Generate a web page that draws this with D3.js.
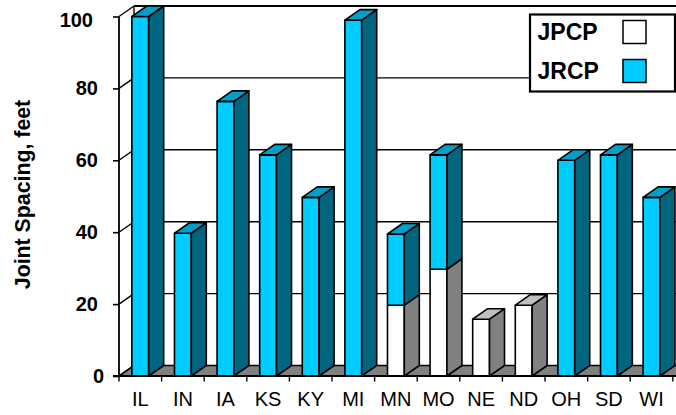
<!DOCTYPE html>
<html><head><meta charset="utf-8">
<script src="https://cdn.jsdelivr.net/npm/d3@7"></script>
<style>html,body{margin:0;padding:0;background:#fff}svg{display:block;font-family:"Liberation Sans",Arial,sans-serif}</style>
</head><body><svg id="c" width="676" height="415"></svg>
<script>
const categories=["IL","IN","IA","KS","KY","MI","MN","MO","NE","ND","OH","SD","WI"];
const jpcp=[0,0,0,0,0,0,19.7,29.7,15.8,19.7,0,0,0];
const jrcp=[100,39.7,76.4,61.5,49.7,99,19.8,31.8,0,0,60,61.5,49.7];
const yTicks=[0,20,40,60,80,100];
const seriesNames=["JPCP","JRCP"];

const svg=d3.select("#c");
const dx=15,dy=-10.5;
const plotL=119,plotR=672.8,plotB=376,plotT=16.5;
const x=d3.scaleBand().domain(categories).range([plotL,plotR]).paddingInner(0.605).paddingOuter(0.302);
const y=d3.scaleLinear().domain([0,100]).range([plotB,plotT]);
const step=x.step();
const colors={JPCP:{front:"#ffffff",side:"#808080",top:"#c0c0c0"},JRCP:{front:"#00ccff",side:"#006680",top:"#00a0c8"}};
const S={stroke:"#000","stroke-width":1.6,"stroke-linejoin":"round"};
const ap=(s,o)=>{Object.entries(o).forEach(([k,v])=>s.attr(k,v));return s;};
const poly=(g,pts,fill)=>ap(g.append("polygon").attr("points",pts.map(p=>p.join(",")).join(" ")).attr("fill",fill),S);

// floor
poly(svg,[[plotL,plotB],[plotL+dx,plotB+dy],[700,plotB+dy],[700,plotB]],"#808080");
// back wall gridlines
yTicks.slice(1).forEach(t=>{
  svg.append("line").attr("x1",plotL+dx).attr("x2",676).attr("y1",y(t)+dy).attr("y2",y(t)+dy).attr("stroke","#000").attr("stroke-width",t==100?2:1.4);
  svg.append("line").attr("x1",plotL).attr("x2",plotL+dx).attr("y1",y(t)).attr("y2",y(t)+dy).attr("stroke","#000").attr("stroke-width",1.4);
});
svg.append("line").attr("x1",plotL+dx).attr("x2",plotL+dx).attr("y1",y(100)+dy).attr("y2",plotB+dy).attr("stroke","#000").attr("stroke-width",1.4);

// bars
const w=x.bandwidth();
categories.forEach((c,i)=>{
  const g=svg.append("g");
  const X=x(c);
  const segs=[["JPCP",0,jpcp[i]],["JRCP",jpcp[i],jpcp[i]+jrcp[i]]].filter(s=>s[2]>s[1]);
  segs.forEach(([n,a,b],k)=>{
    const col=colors[n];
    poly(g,[[X,y(a)],[X+w,y(a)],[X+w,y(b)],[X,y(b)]],col.front);
    poly(g,[[X+w,y(a)],[X+w+dx,y(a)+dy],[X+w+dx,y(b)+dy],[X+w,y(b)]],col.side);
    if(k===segs.length-1) poly(g,[[X,y(b)],[X+w,y(b)],[X+w+dx,y(b)+dy],[X+dx,y(b)+dy]],col.top);
  });
});

// axes
const ya=d3.axisLeft(y).tickValues(yTicks).tickSize(6).tickPadding(9);
const gy=svg.append("g").attr("transform",`translate(${plotL},0)`).call(ya);
gy.select(".domain").attr("stroke-width",1.8).attr("d",`M0,${plotB}V${plotT}`);
gy.selectAll("line").attr("stroke-width",1.6);
gy.selectAll("text").attr("font-size",20).attr("font-weight","bold").attr("fill","#000").attr("font-family","Liberation Sans")
  .attr("transform",d=>d===100?"translate(-11,4)":d===0?"translate(0,0.5)":"translate(-6,0)");

const xa=d3.axisBottom(x).tickSize(0).tickPadding(16);
const gx=svg.append("g").attr("transform",`translate(0,${plotB})`).call(xa);
gx.select(".domain").remove();
gx.selectAll("text").attr("font-size",20).attr("fill","#000").attr("font-family","Liberation Sans");
svg.append("line").attr("x1",plotL-6).attr("x2",676).attr("y1",plotB).attr("y2",plotB).attr("stroke","#000").attr("stroke-width",1.8);
d3.range(categories.length+1).forEach(i=>{
  const t=plotL+i*step;
  svg.append("line").attr("x1",t).attr("x2",t).attr("y1",plotB).attr("y2",plotB+5.5).attr("stroke","#000").attr("stroke-width",1.4);
});

svg.append("text").attr("transform","translate(30,194.5) rotate(-90)").attr("text-anchor","middle")
  .attr("font-size",21.3).attr("font-weight","bold").text("Joint Spacing, feet");

// legend
svg.append("rect").attr("x",530).attr("y",14.5).attr("width",145).attr("height",77).attr("fill","#fff").attr("stroke","#000").attr("stroke-width",2.2);
seriesNames.forEach((n,i)=>{
  const yy=32+i*39;
  svg.append("text").attr("x",537.5).attr("y",yy+8).attr("font-size",23).attr("font-weight","bold").text(n);
  svg.append("rect").attr("x",623).attr("y",yy-11.5).attr("width",23).attr("height",23).attr("fill",colors[n].front).attr("stroke","#000").attr("stroke-width",1.5);
});
</script></body></html>
